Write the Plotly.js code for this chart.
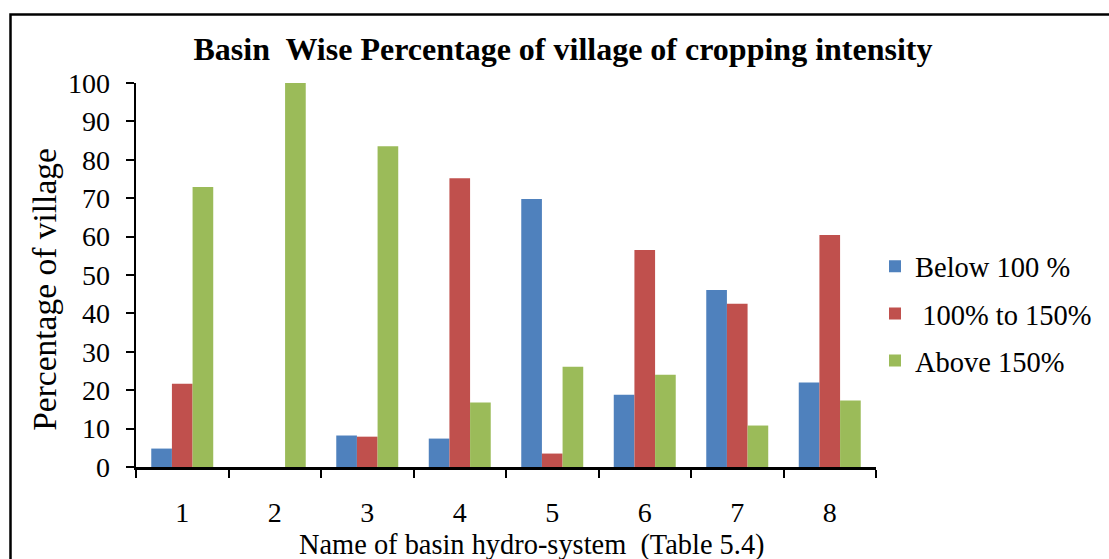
<!DOCTYPE html>
<html>
<head>
<meta charset="utf-8">
<script src="https://cdn.plot.ly/plotly-3.0.1.min.js"></script>
<style>html,body{margin:0;padding:0;background:#fff;}#chart{width:1109px;height:559px;}</style>
</head>
<body>
<div id="chart"></div>
<script>
const categories = ['1', '2', '3', '4', '5', '6', '7', '8'];
const seriesNames = ['Below 100 %', '\u00a0100% to 150%', 'Above 150%'];
const below100 = [4.8, 0, 8.2, 7.4, 69.8, 18.8, 46.1, 22.0];
const from100to150 = [21.7, 0, 7.9, 75.2, 3.5, 56.5, 42.5, 60.4];
const above150 = [72.9, 100, 83.5, 16.8, 26.1, 24.0, 10.8, 17.3];
const colors = ['#4F81BD', '#C0504D', '#9BBB59'];
const yTicks = [0, 10, 20, 30, 40, 50, 60, 70, 80, 90, 100];
const chartTitle = 'Basin\u00a0 Wise Percentage of village of cropping intensity';
const xTitle = 'Name of basin hydro-system\u00a0 (Table 5.4)';
const yTitle = 'Percentage of village';

const FONT = '"Liberation Serif", "Times New Roman", Times, serif';
const values = [below100, from100to150, above150];
const traces = values.map((v, i) => ({
  type: 'bar',
  x: categories,
  y: v,
  name: seriesNames[i],
  legendgroup: 'g' + i,
  marker: {color: colors[i], line: {width: 0}},
  hoverinfo: 'x+y+name'
}));

const L = 136, R = 1109 - 876, T = 82.7, B = 559 - 467.5;
const pw = 1109 - L - R, ph = 559 - T - B;
const px2x = p => (p - L) / pw;
const py2y = p => (559 - B - p) / ph;

const layout = {
  width: 1109, height: 559,
  margin: {l: L, r: R, t: T, b: B, pad: 0},
  paper_bgcolor: '#fff', plot_bgcolor: '#fff',
  font: {family: FONT, color: '#000', size: 28},
  title: {
    text: '<b>' + chartTitle + '</b>',
    font: {family: FONT, size: 32, color: '#000'},
    xref: 'paper', x: px2x(563), xanchor: 'center',
    yref: 'container', y: 1 - 49 / 559, yanchor: 'middle'
  },
  bargap: 0.33, bargroupgap: 0,
  barmode: 'group',
  showlegend: true,
  legend: {
    x: px2x(875), xanchor: 'left',
    y: py2y(314), yanchor: 'middle',
    font: {family: FONT, size: 28.5, color: '#000'},
    tracegroupgap: 7,
    bgcolor: 'rgba(0,0,0,0)'
  },
  xaxis: {
    type: 'category',
    tickson: 'boundaries',
    showline: true, linecolor: '#000', linewidth: 3,
    ticks: 'outside', ticklen: 8, tickwidth: 2, tickcolor: '#000',
    ticklabelstandoff: 18,
    tickfont: {family: FONT, size: 28, color: '#000'},
    showgrid: false, zeroline: false,
    automargin: false
  },
  yaxis: {
    range: [0, 100],
    tickvals: yTicks,
    showline: true, linecolor: '#000', linewidth: 2.5,
    ticks: 'outside', ticklen: 8, tickwidth: 2, tickcolor: '#000',
    ticklabelstandoff: 10,
    tickfont: {family: FONT, size: 28, color: '#000'},
    showgrid: false, zeroline: false,
    automargin: false
  },
  annotations: [
    {text: xTitle, xref: 'paper', yref: 'paper', x: px2x(531.5), y: py2y(546),
     xanchor: 'center', yanchor: 'middle', showarrow: false,
     font: {family: FONT, size: 28.4, color: '#000'}},
    {text: yTitle, xref: 'paper', yref: 'paper', x: px2x(45), y: py2y(290),
     xanchor: 'center', yanchor: 'middle', showarrow: false, textangle: -90,
     font: {family: FONT, size: 33.5, color: '#000'}}
  ],
  shapes: [{
    type: 'rect', xref: 'paper', yref: 'paper',
    x0: px2x(10.5), x1: px2x(1130), y0: py2y(600), y1: py2y(14),
    line: {color: '#000', width: 2.5}, fillcolor: 'rgba(0,0,0,0)', layer: 'above'
  }]
};

Plotly.newPlot('chart', traces, layout, {displayModeBar: false, staticPlot: true});
</script>
</body>
</html>
